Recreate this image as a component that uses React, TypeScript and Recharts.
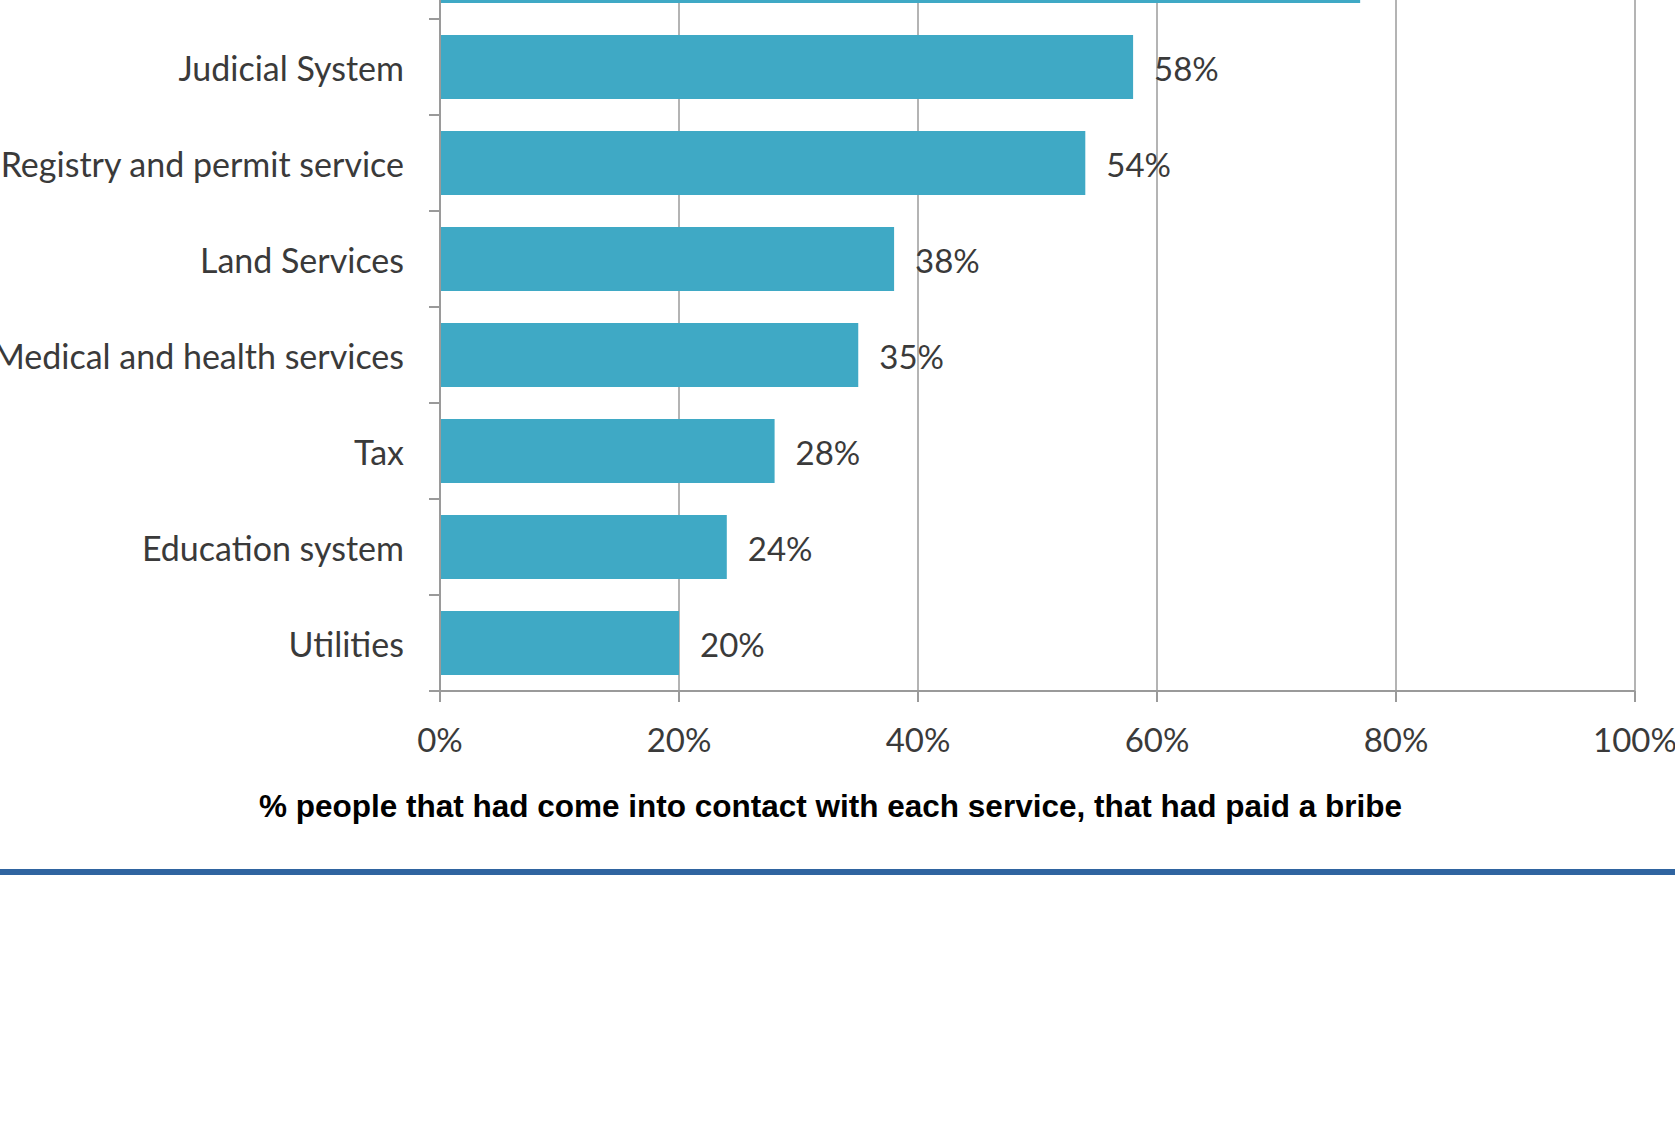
import { BarChart, Bar, XAxis, YAxis, CartesianGrid, LabelList, Label } from 'recharts';

const categories = [
  'Police',
  'Judicial System',
  'Registry and permit service',
  'Land Services',
  'Medical and health services',
  'Tax',
  'Education system',
  'Utilities',
];
const bribeShare = [77, 58, 54, 38, 35, 28, 24, 20];
const xTicks = [0, 20, 40, 60, 80, 100];
const xTitle = '% people that had come into contact with each service, that had paid a bribe';

const data = categories.map((name, i) => ({ name, value: bribeShare[i] }));

const FONT = 'Lato, "Open Sans", sans-serif';
const BAR_COLOR = '#3fa9c5';
const TEXT = '#3a3a3a';
const AXIS = '#9a9a9a';

const CHART_W = 1675;
const CHART_H = 1000;
const MARGIN_TOP = 20;
const PLOT_H = 768;
const BAND = PLOT_H / categories.length;

function CategoryTick({ x, y, payload, index }: any) {
  const last = index === categories.length - 1;
  return (
    <g>
      <line x1={x - 11} x2={x} y1={y - BAND / 2} y2={y - BAND / 2} stroke={AXIS} strokeWidth={2} />
      {last && <line x1={x - 11} x2={x} y1={y + BAND / 2} y2={y + BAND / 2} stroke={AXIS} strokeWidth={2} />}
      <text x={x - 36} y={y} textAnchor="end" dominantBaseline="central" fill={TEXT} fontSize={34} fontFamily={FONT}>
        {payload.value}
      </text>
    </g>
  );
}

export default function App() {
  return (
    <div style={{ position: 'absolute', left: 0, top: 0, width: 1675, height: 1121, overflow: 'hidden', background: '#fff' }}>
      <div style={{ position: 'absolute', left: 0, top: -97 }}>
        <BarChart
          width={CHART_W}
          height={CHART_H}
          data={data}
          layout="vertical"
          margin={{ top: MARGIN_TOP, right: 40, bottom: CHART_H - MARGIN_TOP - PLOT_H - 110, left: 0 }}
        >
          <CartesianGrid horizontal={false} stroke="#b4b4b4" strokeWidth={2} />
          <XAxis
            type="number"
            domain={[0, 100]}
            ticks={xTicks}
            interval={0}
            tickFormatter={(v: number) => `${v}%`}
            tick={{ fill: TEXT, fontSize: 33, fontFamily: FONT }}
            tickSize={11}
            tickMargin={27}
            axisLine={{ stroke: AXIS, strokeWidth: 2 }}
            tickLine={{ stroke: AXIS, strokeWidth: 2 }}
            height={110}
          >
            <Label
              value={xTitle}
              position="insideBottom"
              offset={-16}
              dx={-207}
              fill="#000"
              fontSize={31.5}
              fontWeight="bold"
              fontFamily='"Liberation Sans", Arial, sans-serif'
            />
          </XAxis>
          <YAxis
            type="category"
            dataKey="name"
            width={440}
            interval={0}
            tickSize={0}
            tickMargin={0}
            tickLine={false}
            axisLine={{ stroke: AXIS, strokeWidth: 2 }}
            tick={<CategoryTick />}
          />
          <Bar dataKey="value" fill={BAR_COLOR} barSize={64} isAnimationActive={false}>
            <LabelList
              dataKey="value"
              position="right"
              offset={21}
              dy={2}
              formatter={(v: any) => `${v}%`}
              fill={TEXT}
              fontSize={33}
              fontFamily={FONT}
            />
          </Bar>
        </BarChart>
        <div style={{ position: 'absolute', left: 0, top: 872 + 97 - 3, width: 1675, height: 6, background: '#2f64a0' }} />
      </div>
    </div>
  );
}
